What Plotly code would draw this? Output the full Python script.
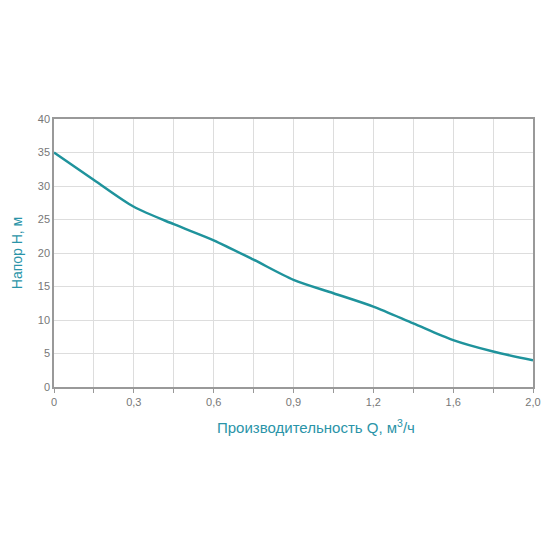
import plotly.graph_objects as go

# Q values (m3/h) as printed on the axis, and pump head H (m)
q_labels = ["0", "0,15", "0,3", "0,45", "0,6", "0,75", "0,9",
            "1,05", "1,2", "1,4", "1,6", "1,8", "2,0"]
head = [35, 30.9, 26.9, 24.3, 21.9, 19.0, 16.0, 14.0, 12.0, 9.5, 7.0, 5.3, 4.0]
shown_ticks = ["0", "0,3", "0,6", "0,9", "1,2", "1,6", "2,0"]

tick_text = [lab if lab in shown_ticks else "" for lab in q_labels]

line_color = "#1f939c"
title_color = "#2a94a8"

fig = go.Figure()
fig.add_trace(go.Scatter(
    x=q_labels,
    y=head,
    mode="lines",
    line=dict(color=line_color, width=2.5, shape="spline", smoothing=0.8),
    hoverinfo="skip",
))

# x title sits a bit right of centre in the original, so use an annotation
fig.add_annotation(
    text="Производительность Q, м<sup>3</sup>/ч",
    xref="paper", yref="paper",
    x=0.547, y=-0.149,
    xanchor="center", yanchor="middle",
    showarrow=False,
    font=dict(color=title_color, size=15),
)

# page body has an 8px margin, so the figure is a bit smaller
fig.update_layout(
    width=542,
    height=542,
    margin=dict(l=46, r=17, t=111, b=163),
    paper_bgcolor="white",
    plot_bgcolor="white",
    showlegend=False,
    font=dict(family="Liberation Sans, Arial, sans-serif", color="#777777", size=11),
    xaxis=dict(
        type="category",
        range=[0, len(q_labels) - 1],
        tickvals=q_labels,
        ticktext=tick_text,
        showgrid=True,
        gridcolor="#dddddd",
        gridwidth=1,
        showline=True,
        linecolor="#999999",
        linewidth=1.5,
        mirror=True,
        ticks="outside",
        ticklen=4,
        tickcolor="#999999",
        zeroline=False,
        automargin=False,
    ),
    yaxis=dict(
        range=[0, 40],
        dtick=5,
        showgrid=True,
        gridcolor="#dddddd",
        gridwidth=1,
        showline=True,
        linecolor="#999999",
        linewidth=1.5,
        mirror=True,
        ticks="",
        zeroline=False,
        automargin=False,
        title=dict(text="Напор H, м", font=dict(color=title_color, size=14), standoff=12),
    ),
)

fig.write_html("out.html")
